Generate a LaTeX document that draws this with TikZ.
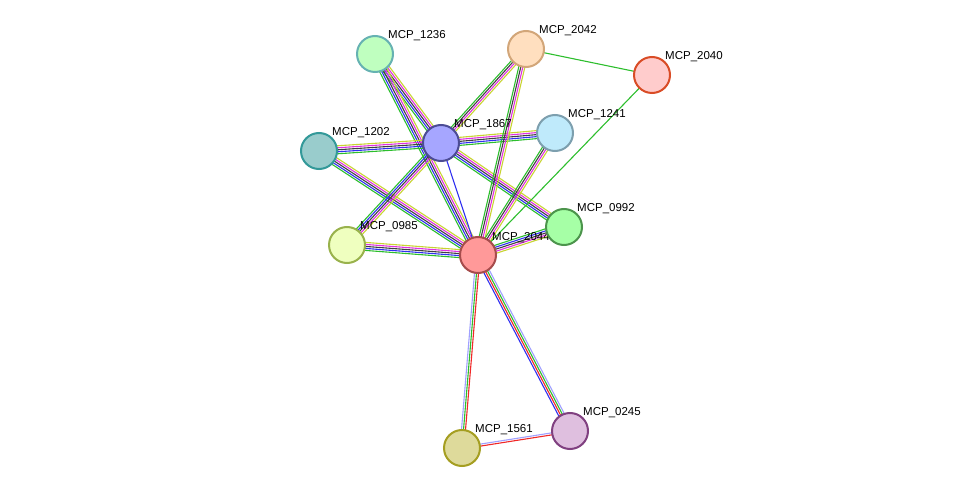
\documentclass[tikz,border=0pt]{standalone}
\usepackage{fontspec}
\setmainfont{Liberation Sans}
\usetikzlibrary{positioning, backgrounds, calc}
\definecolor{eGreen}{HTML}{2DBE2D}
\definecolor{eBlue}{HTML}{3030F0}
\definecolor{eBlack}{HTML}{404040}
\definecolor{eMag}{HTML}{E030E0}
\definecolor{eYel}{HTML}{C8D432}
\definecolor{eRed}{HTML}{F02828}
\definecolor{eLblue}{HTML}{A0A0FF}
\tikzset{%
	prot/.style={draw, circle, minimum size=36pt, inner sep=0pt, line width=2pt},
	lbl/.style={font=\fontsize{11.5}{12}\selectfont, inner sep=1pt, label distance=-2pt},
	strand/.style={line width=1.1pt}
}
% a link drawn as parallel coloured strands: colour/offset pairs
\newcommand{\link}[3]{%
	\foreach \c/\o in {#3}
		\draw[strand, \c] ($(#1)!\o pt!90:(#2)$) -- ($(#2)!\o pt!-90:(#1)$);
}
\begin{document}
\begin{tikzpicture}[x=1pt, y=-1pt]
			\useasboundingbox (0,0) rectangle (975,494);
			\node[prot, fill=red!40!white, draw=red!50!black!70, label={[lbl]40:MCP\_2044}] (c) at (478,255) {};
			\node[prot, fill=green!25!white, draw=teal!60, label={[lbl]45:MCP\_1236}] (p1236) at (375,54) {};
			\node[prot, fill=orange!25!white, draw=brown!70, label={[lbl]45:MCP\_2042}] (p2042) at (526,49) {};
			\node[prot, fill=red!20!white, draw=red!40!brown, label={[lbl]45:MCP\_2040}] (p2040) at (652,75) {};
			\node[prot, fill=blue!35!white, draw=blue!40!black!70, label={[lbl]45:MCP\_1867}] (p1867) at (441,143) {};
			\node[prot, fill=cyan!25!white, draw=cyan!30!gray, label={[lbl]45:MCP\_1241}] (p1241) at (555,133) {};
			\node[prot, fill=teal!40!white, draw=teal!80, label={[lbl]45:MCP\_1202}] (p1202) at (319,151) {};
			\node[prot, fill=green!35!white, draw=green!40!black!70, label={[lbl]45:MCP\_0992}] (p0992) at (564,227) {};
			\node[prot, fill=lime!25!white, draw=lime!40!gray, label={[lbl]45:MCP\_0985}] (p0985) at (347,245) {};
			\node[prot, fill=violet!25!white, draw=violet!50!gray, label={[lbl]45:MCP\_0245}] (p0245) at (570,431) {};
			\node[prot, fill=yellow!50!gray!60, draw=olive!80, label={[lbl]45:MCP\_1561}] (p1561) at (462,448) {};

			\begin{scope}[on background layer]
				\link{p1236}{p1867}{eGreen/-4, eBlue/-2, eBlack/0, eMag/2, eYel/4}
				\link{p1236}{c}{eGreen/-4, eBlue/-2, eBlack/0, eMag/2, eYel/4}
				\link{p1202}{p1867}{eGreen/-4, eBlue/-2, eBlack/0, eMag/2, eYel/4}
				\link{p1202}{c}{eGreen/-4, eBlue/-2, eBlack/0, eMag/2, eYel/4}
				\link{p1867}{p1241}{eGreen/-4, eBlue/-2, eBlack/0, eMag/2, eYel/4}
				\link{p1867}{p0992}{eGreen/-4, eBlue/-2, eBlack/0, eMag/2, eYel/4}
				\link{p1867}{p0985}{eGreen/-4, eBlue/-2, eBlack/0, eMag/2, eYel/4}
				\link{p0985}{c}{eGreen/-4, eBlue/-2, eBlack/0, eMag/2, eYel/4}
				\link{p0992}{c}{eGreen/-4, eBlue/-2, eBlack/0, eMag/2, eYel/4}
				\link{p2042}{p1867}{eGreen/-3, eBlack/-1, eMag/1, eYel/3}
				\link{p2042}{c}{eGreen/-3, eBlack/-1, eMag/1, eYel/3}
				\link{p1241}{c}{eGreen/-3, eBlack/-1, eMag/1, eYel/3}
				\link{p1867}{c}{eBlue/0}
				\link{p2042}{p2040}{eGreen/0}
				\link{p2040}{c}{eGreen/0}
				\link{c}{p0245}{eBlue/-3, eRed/-1, eGreen/1, eLblue/3}
				\link{c}{p1561}{eLblue/-2, eGreen/0, eRed/2}
				\link{p1561}{p0245}{eRed/-1, eLblue/1}
			\end{scope}
		\end{tikzpicture}
\end{document}
